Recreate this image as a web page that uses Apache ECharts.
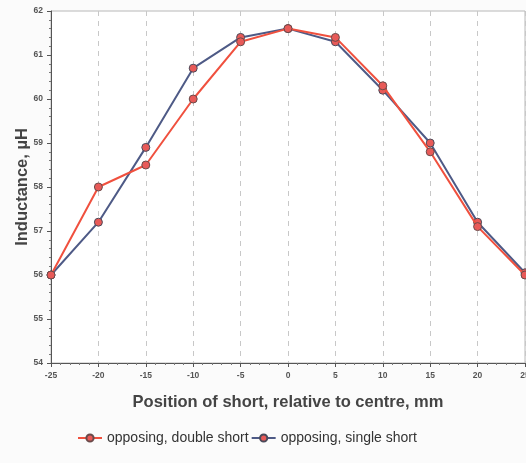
<!DOCTYPE html>
<html>
<head>
<meta charset="utf-8">
<script src="https://cdn.jsdelivr.net/npm/echarts@6/dist/echarts.min.js"></script>
<style>
html,body{margin:0;padding:0;background:#fbfbfb;}
#c{width:526px;height:463px;}
</style>
</head>
<body>
<div id="c"></div>
<script>
const positions = [-25, -20, -15, -10, -5, 0, 5, 10, 15, 20, 25];
const doubleShort = [56.0, 58.0, 58.5, 60.0, 61.3, 61.6, 61.4, 60.3, 58.8, 57.1, 56.0];
const singleShort = [56.0, 57.2, 58.9, 60.7, 61.4, 61.6, 61.3, 60.2, 59.0, 57.2, 56.05];
const seriesNames = ['opposing, double short', 'opposing, single short'];

const chart = echarts.init(document.getElementById('c'));
const mk = (arr) => positions.map((p, i) => [p, arr[i]]);
const font = 'Liberation Sans, Arial, sans-serif';
chart.setOption({
  backgroundColor: '#fbfbfb',
  animation: false,
  grid: {left: 51, right: 1, top: 11, bottom: 100, outerBoundsMode: 'none', containLabel: false, show: true, backgroundColor: '#ffffff', borderColor: '#b8b8b8', borderWidth: 1},
  legend: {
    bottom: 13, left: 72, itemWidth: 24, itemHeight: 9, itemGap: 2,
    textStyle: {fontFamily: font, fontSize: 14, color: '#333'},
    data: seriesNames
  },
  xAxis: {
    type: 'value', min: -25, max: 25, interval: 5,
    name: 'Position of short, relative to centre, mm', nameLocation: 'middle', nameGap: 31,
    nameTextStyle: {fontFamily: font, fontSize: 16.5, fontWeight: 'bold', color: '#444'},
    axisLine: {onZero: false, lineStyle: {color: '#555', width: 1}},
    axisTick: {inside: false, length: 4, lineStyle: {color: '#555'}},
    minorTick: {show: true, splitNumber: 5, length: 2, lineStyle: {color: '#777'}},
    axisLabel: {fontFamily: font, fontSize: 8.5, fontWeight: 'bold', color: '#555', margin: 8},
    splitLine: {show: true, lineStyle: {type: [5, 5], color: '#c8c8c8'}}
  },
  yAxis: {
    type: 'value', min: 54, max: 62, interval: 1,
    name: 'Inductance, µH', nameLocation: 'middle', nameGap: 20, nameMoveOverlap: false,
    nameTextStyle: {fontFamily: font, fontSize: 16.5, fontWeight: 'bold', color: '#444'},
    axisLine: {show: true, onZero: false, lineStyle: {color: '#555', width: 1}},
    axisTick: {show: true, length: 4, lineStyle: {color: '#555'}},
    minorTick: {show: true, splitNumber: 5, length: 2, lineStyle: {color: '#777'}},
    axisLabel: {fontFamily: font, fontSize: 8.5, fontWeight: 'bold', color: '#555', margin: 8},
    splitLine: {show: false}
  },
  series: [
    {
      name: seriesNames[0], type: 'line', data: mk(doubleShort), z: 3,
      symbol: 'circle', symbolSize: 8,
      lineStyle: {color: '#f0503e', width: 2},
      itemStyle: {color: '#e85a58', borderColor: '#6a4a4a', borderWidth: 1}
    },
    {
      name: seriesNames[1], type: 'line', data: mk(singleShort), z: 2,
      symbol: 'circle', symbolSize: 8,
      lineStyle: {color: '#4e5a86', width: 2},
      itemStyle: {color: '#e85a58', borderColor: '#4a4a5a', borderWidth: 1}
    }
  ]
});
</script>
</body>
</html>
